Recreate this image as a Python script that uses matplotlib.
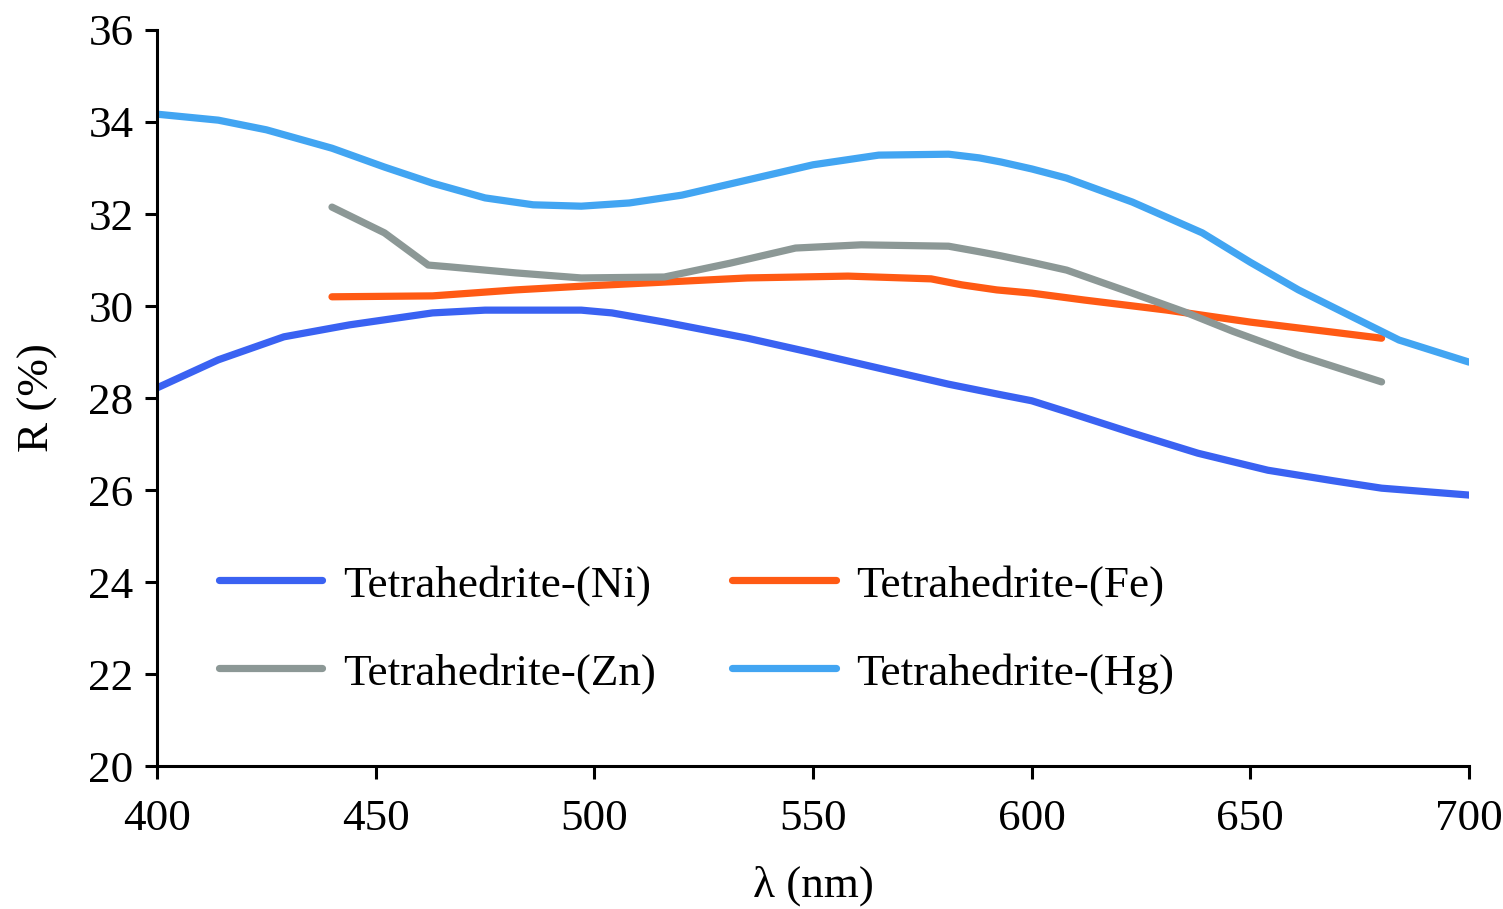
import matplotlib.pyplot as plt

# wavelength (nm) and reflectance R (%)
wl_ni = [400, 414, 429, 444, 463, 475, 497, 504, 516, 535, 550, 565, 581, 593, 600, 608, 623, 638, 654, 669, 680, 700]
r_ni = [28.22, 28.83, 29.33, 29.59, 29.85, 29.91, 29.91, 29.85, 29.65, 29.3, 28.98, 28.65, 28.3, 28.07, 27.94, 27.7, 27.24, 26.8, 26.43, 26.2, 26.04, 25.89]

wl_fe = [440, 463, 482, 497, 516, 535, 558, 577, 584, 592, 600, 612, 631, 650, 669, 680]
r_fe = [30.2, 30.22, 30.35, 30.43, 30.52, 30.61, 30.65, 30.59, 30.46, 30.35, 30.28, 30.13, 29.91, 29.65, 29.43, 29.3]

wl_zn = [440, 452, 462, 467, 482, 497, 516, 531, 546, 561, 581, 588, 593, 600, 608, 623, 635, 646, 661, 680]
r_zn = [32.15, 31.59, 30.89, 30.85, 30.72, 30.61, 30.63, 30.93, 31.26, 31.33, 31.3, 31.18, 31.09, 30.95, 30.78, 30.28, 29.87, 29.45, 28.93, 28.35]

wl_hg = [400, 414, 425, 440, 452, 463, 475, 486, 497, 508, 520, 535, 550, 565, 581, 588, 593, 600, 608, 623, 639, 650, 661, 673, 684, 700]
r_hg = [34.17, 34.04, 33.83, 33.43, 33.02, 32.67, 32.35, 32.2, 32.17, 32.24, 32.41, 32.74, 33.07, 33.28, 33.3, 33.22, 33.13, 32.98, 32.78, 32.26, 31.59, 30.95, 30.35, 29.78, 29.26, 28.78]

labels = ['Tetrahedrite-(Ni)', 'Tetrahedrite-(Fe)', 'Tetrahedrite-(Zn)', 'Tetrahedrite-(Hg)']
colors = ['#3a62f2', '#ff5a14', '#8c9896', '#42a5f2']

plt.rcParams['font.family'] = ['Liberation Serif', 'DejaVu Serif']

fig = plt.figure(figsize=(15.03, 9.09), dpi=100)
ax = fig.add_axes([0.1045, 0.1573, 0.8729, 0.8097])

series = [(wl_ni, r_ni), (wl_fe, r_fe), (wl_zn, r_zn), (wl_hg, r_hg)]
lines = []
for (x, y), lab, c in zip(series, labels, colors):
    ln, = ax.plot(x, y, color=c, lw=5.2, label=lab, solid_capstyle='round', solid_joinstyle='round')
    lines.append(ln)

ax.set_xlim(400, 700)
ax.set_ylim(20, 36)
ax.set_xticks(range(400, 701, 50))
ax.set_yticks(range(20, 37, 2))
ax.spines['top'].set_visible(False)
ax.spines['right'].set_visible(False)
ax.spines['left'].set_linewidth(2.2)
ax.spines['bottom'].set_linewidth(2.2)
ax.tick_params(width=2.2, length=9, labelsize=32.5)
ax.tick_params(axis='x', pad=15)
ax.tick_params(axis='y', pad=8)

ax.set_xlabel('λ (nm)', fontsize=32.5, labelpad=19)
ax.set_ylabel('R (%)', fontsize=32.5, labelpad=22)

# matplotlib fills legend columns first, so order handles to get Ni/Fe on the first row
order = [0, 2, 1, 3]
ax.legend([lines[i] for i in order], [labels[i] for i in order], ncol=2, frameon=False,
          fontsize=32.5, handlelength=2.3, handletextpad=0.45,
          columnspacing=1.7, labelspacing=1.04, loc='upper left',
          bbox_to_anchor=(0.016, 0.329))

fig.savefig('out.png', dpi=100)
